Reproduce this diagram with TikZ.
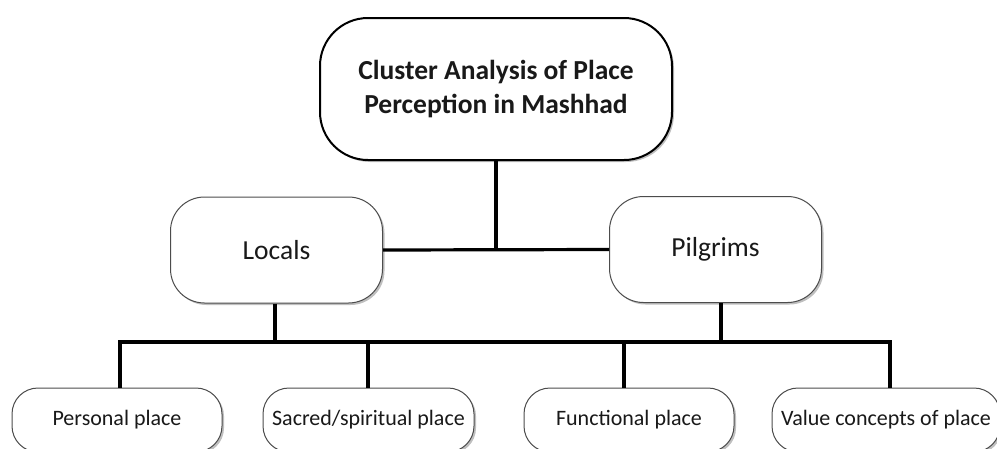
\documentclass[tikz,border=0pt]{standalone}
\usepackage{fontspec}
\setmainfont{Carlito}
\usetikzlibrary{shadows,calc}
\begin{document}
\begin{tikzpicture}[x=1pt,y=-1pt,
  shade box/.style={fill=white, inner sep=0pt, align=center, text=black!90,
    drop shadow={shadow xshift=2pt,shadow yshift=-2pt,opacity=0.25,fill=black}},
  topbox/.style={shade box, draw=black, line width=2pt, rounded corners=48pt,
    minimum width=352pt, minimum height=142pt,
    font=\bfseries\fontsize{27.5}{34}\selectfont},
  midbox/.style={shade box, draw=black!70, line width=1pt, rounded corners=34pt,
    minimum width=212pt, minimum height=106pt,
    font=\fontsize{27.5}{33}\selectfont},
  botbox/.style={shade box, draw=black!70, line width=1pt, rounded corners=26pt,
    minimum height=64pt, font=\fontsize{22}{26}\selectfont},
  conn/.style={draw=black, line width=3.2pt, line join=miter}]
\path[use as bounding box] (0,0) rectangle (997,448);
\clip (0,0) rectangle (997,448);

\coordinate (busL) at (120,342);
\coordinate (busS) at (368,342);
\coordinate (busF) at (624,342);
\coordinate (busR) at (890,342);
\coordinate (busLoc) at (275,342);
\coordinate (busPil) at (721,342);

\node[topbox] (top) at (496,89) {Cluster Analysis of Place\\Perception in Mashhad};
\node[midbox] (loc) at (276.5,250) {Locals};
\node[midbox] (pil) at (715.5,249.5) {Pilgrims};
\node[botbox, minimum width=210pt] (per) at (117,420) {Personal place};
\node[botbox, minimum width=211pt] (sac) at (368.5,420) {Sacred/spiritual place};
\node[botbox, minimum width=210pt] (fun) at (629,420) {Functional place};
\node[botbox, minimum width=228pt] (val) at (886,420) {Value concepts of place};

\draw[conn] (top.south) -- (top.south |- loc.east);
\draw[conn] (loc.east) -- (pil.west);
\draw[conn] (busLoc |- loc.south) -- (busLoc);
\draw[conn] (busPil |- pil.south) -- (busPil);
\draw[conn] (busL |- per.north) -- (busL) -- (busR) -- (busR |- val.north);
\draw[conn] (busS) -- (busS |- sac.north);
\draw[conn] (busF) -- (busF |- fun.north);
\end{tikzpicture}
\end{document}
